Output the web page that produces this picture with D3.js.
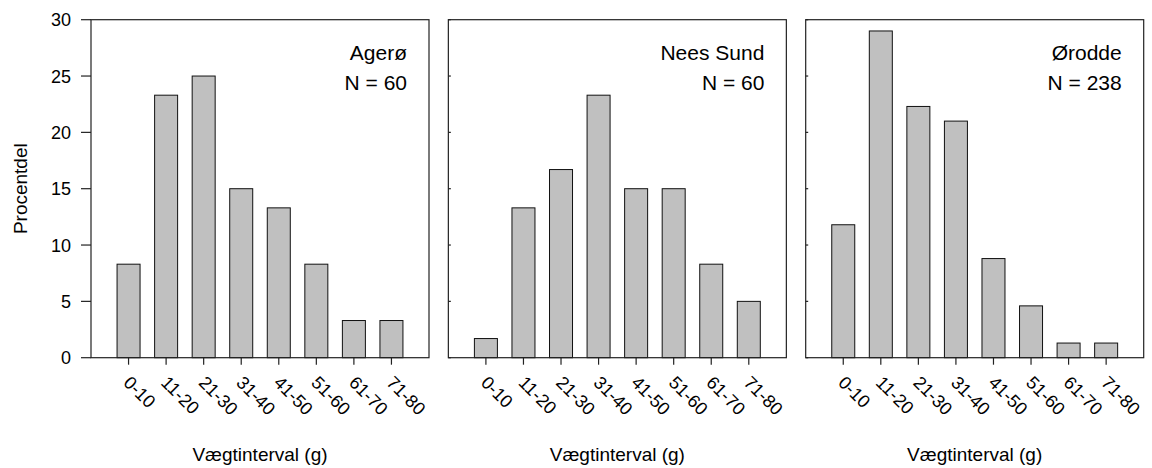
<!DOCTYPE html>
<html>
<head>
<meta charset="utf-8">
<script src="https://cdn.jsdelivr.net/npm/d3@7"></script>
<style>
  body { margin: 0; background: #fff; }
  svg { display: block; font-family: "Liberation Sans", Arial, sans-serif; }
  .frame { fill: none; stroke: #222; stroke-width: 1.2; }
  .bar { fill: #c0c0c0; stroke: #111; stroke-width: 1; }
  .tick line { stroke: #222; stroke-width: 1.2; }
  .tick-label { font-size: 18px; fill: #000; }
  .axis-title { font-size: 19px; fill: #000; }
  .site-label { font-size: 21px; fill: #000; }
</style>
</head>
<body>
<svg id="chart" width="1152" height="468"></svg>
<script>
var categories = ['0-10', '11-20', '21-30', '31-40', '41-50', '51-60', '61-70', '71-80'];
var sites = ['Agerø', 'Nees Sund', 'Ørodde'];
var site_n = ['N = 60', 'N = 60', 'N = 238'];
var agero = [8.3, 23.3, 25.0, 15.0, 13.3, 8.3, 3.3, 3.3];
var nees_sund = [1.7, 13.3, 16.7, 23.3, 15.0, 15.0, 8.3, 5.0];
var orodde = [11.8, 29.0, 22.3, 21.0, 8.8, 4.6, 1.3, 1.3];
var y_ticks = [0, 5, 10, 15, 20, 25, 30];

var series = [agero, nees_sund, orodde];

var margin = {top: 19.7, left: 91},
    panel_w = 338,
    panel_h = 338,
    panel_gap = 19.35,
    bar_w = 23;

var svg = d3.select('#chart');

var y = d3.scaleLinear().domain([0, 30]).range([panel_h, 0]);
// categories sit at 1..8 on a 0..9 axis
var x = d3.scaleLinear().domain([0, categories.length + 1]).range([0, panel_w]);

series.forEach(function(values, p) {

  var g = svg.append('g')
    .attr('class', 'panel')
    .attr('transform', 'translate(' + (margin.left + p*(panel_w + panel_gap)) + ',' + margin.top + ')');

  g.selectAll('rect.bar')
    .data(values)
    .enter()
    .append('rect')
    .attr('class', 'bar')
    .attr('x', function(d, i) { return x(i + 1) - bar_w/2; })
    .attr('y', function(d) { return y(d); })
    .attr('width', bar_w)
    .attr('height', function(d) { return y(0) - y(d); });

  g.append('rect')
    .attr('class', 'frame')
    .attr('x', 0)
    .attr('y', 0)
    .attr('width', panel_w)
    .attr('height', panel_h);

  // y ticks: outside with labels on the first panel, small inward marks on others
  var yt = g.selectAll('g.ytick')
    .data(y_ticks)
    .enter()
    .append('g')
    .attr('class', 'tick ytick')
    .attr('transform', function(d) { return 'translate(0,' + y(d) + ')'; });

  yt.append('line')
    .attr('x1', (p == 0) ? -10 : 0)
    .attr('x2', (p == 0) ? 0 : 2.5);

  if (p == 0) {
    yt.append('text')
      .attr('class', 'tick-label')
      .attr('x', -20)
      .attr('dy', '0.36em')
      .attr('text-anchor', 'end')
      .text(function(d) { return d; });

    g.append('text')
      .attr('class', 'axis-title')
      .attr('transform', 'translate(' + (-64) + ',' + (panel_h/2) + ') rotate(-90)')
      .attr('text-anchor', 'middle')
      .text('Procentdel');
  }

  var xt = g.selectAll('g.xtick')
    .data(categories)
    .enter()
    .append('g')
    .attr('class', 'tick xtick')
    .attr('transform', function(d, i) { return 'translate(' + x(i + 1) + ',' + panel_h + ')'; });

  xt.append('line')
    .attr('y1', 0)
    .attr('y2', 7);

  xt.append('text')
    .attr('class', 'tick-label')
    .attr('transform', 'translate(-6,26) rotate(45)')
    .attr('text-anchor', 'start')
    .text(function(d) { return d; });

  g.append('text')
    .attr('class', 'axis-title')
    .attr('x', panel_w/2)
    .attr('y', panel_h + 103)
    .attr('text-anchor', 'middle')
    .text('Vægtinterval (g)');

  g.append('text')
    .attr('class', 'site-label')
    .attr('x', panel_w - 22)
    .attr('y', 40)
    .attr('text-anchor', 'end')
    .text(sites[p]);

  g.append('text')
    .attr('class', 'site-label')
    .attr('x', panel_w - 22)
    .attr('y', 70)
    .attr('text-anchor', 'end')
    .text(site_n[p]);
});
</script>
</body>
</html>
